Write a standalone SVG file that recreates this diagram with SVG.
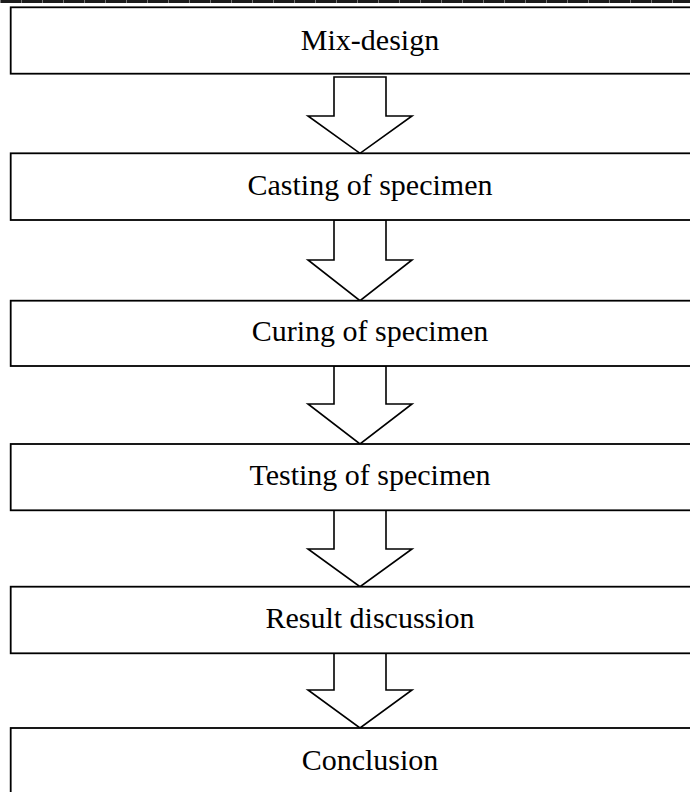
<svg xmlns="http://www.w3.org/2000/svg" width="690" height="792" viewBox="0 0 690 792">
<style>
.box{fill:#fff;stroke:#000;stroke-width:1.8}
.arr{fill:#fff;stroke:#000;stroke-width:1.6;stroke-linejoin:miter}
.lbl{font-family:"Liberation Serif","Times New Roman",serif;font-size:30px;fill:#000;text-anchor:middle}
</style>
<rect x="0" y="0" width="690" height="792" fill="#fff"/>
<g id="topline">
<rect x="0" y="0" width="690" height="3" fill="#1c1c1c"/>
<line x1="0" y1="1.5" x2="690" y2="1.5" stroke="#777" stroke-width="3" stroke-dasharray="1 20"/>
</g>
<g id="connectors">
<polygon class="arr" points="334,77 334,116 308,116 360,153.3 412,116 386,116 386,77"/>
<polygon class="arr" points="334,220 334,260 308,260 360,300.7 412,260 386,260 386,220"/>
<polygon class="arr" points="334,366 334,404 308,404 360,444 412,404 386,404 386,366"/>
<polygon class="arr" points="334,510.3 334,549 308,549 360,586.7 412,549 386,549 386,510.3"/>
<polygon class="arr" points="334,653.3 334,690 308,690 360,728 412,690 386,690 386,653.3"/>
</g>
<g id="n1"><rect class="box" x="10.7" y="7.3" width="720" height="66.4"/><text class="lbl" x="370" y="50">Mix-design</text></g>
<g id="n2"><rect class="box" x="10.7" y="153.3" width="720" height="66.7"/><text class="lbl" x="370" y="195">Casting of specimen</text></g>
<g id="n3"><rect class="box" x="10.7" y="300.7" width="720" height="65.3"/><text class="lbl" x="370" y="341">Curing of specimen</text></g>
<g id="n4"><rect class="box" x="10.7" y="444" width="720" height="66.3"/><text class="lbl" x="370" y="485">Testing of specimen</text></g>
<g id="n5"><rect class="box" x="10.7" y="586.7" width="720" height="66.6"/><text class="lbl" x="370" y="628">Result discussion</text></g>
<g id="n6"><rect class="box" x="10.7" y="728" width="720" height="80"/><text class="lbl" x="370" y="770">Conclusion</text></g>
</svg>
